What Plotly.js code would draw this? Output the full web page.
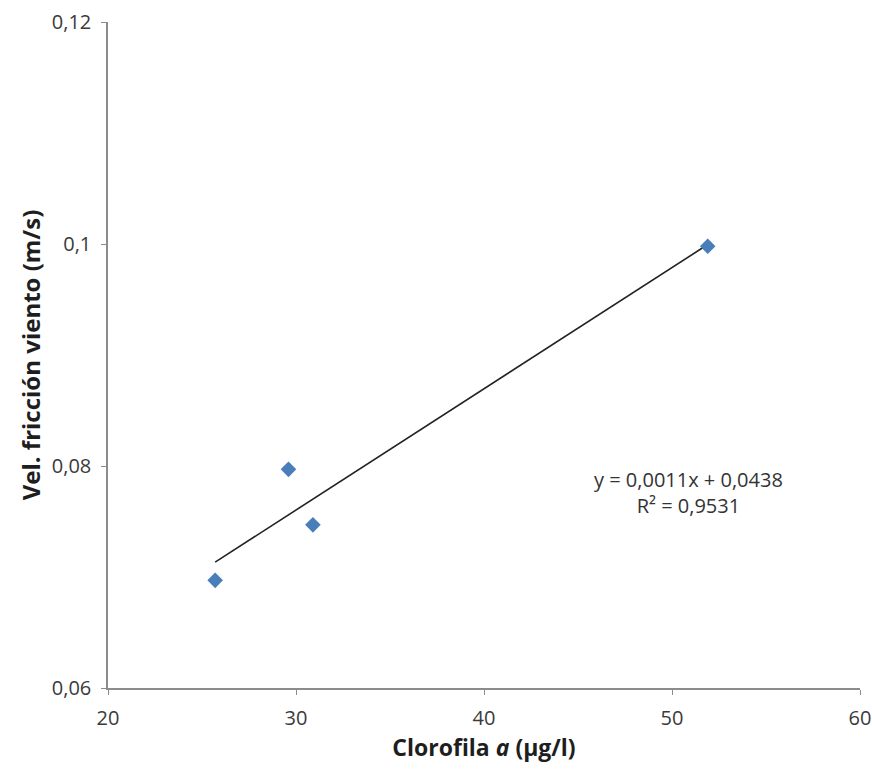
<!DOCTYPE html>
<html>
<head>
<meta charset="utf-8">
<script src="https://cdn.plot.ly/plotly-3.0.1.min.js"></script>
<style>html,body{margin:0;padding:0;background:#fff}#chart{width:872px;height:771px}</style>
</head>
<body>
<div id="chart"></div>
<script>
const clorofila = [25.7, 29.6, 30.9, 51.9];
const velFriccion = [0.0697, 0.0797, 0.0747, 0.0998];
const xTicks = [20, 30, 40, 50, 60];
const yTicks = [0.06, 0.08, 0.10, 0.12];
const yTickLabels = ["0,06", "0,08", "0,1", "0,12"];
const equationText = "y = 0,0011x + 0,0438<br>R² = 0,9531";

// least-squares trendline from the data
const n = clorofila.length;
const mx = clorofila.reduce((a, b) => a + b, 0) / n;
const my = velFriccion.reduce((a, b) => a + b, 0) / n;
let sxy = 0, sxx = 0;
for (let i = 0; i < n; i++) { sxy += (clorofila[i] - mx) * (velFriccion[i] - my); sxx += (clorofila[i] - mx) ** 2; }
const slope = sxy / sxx, intercept = my - slope * mx;
const xmin = Math.min(...clorofila), xmax = Math.max(...clorofila);
const trendX = [xmin, xmax];
const trendY = trendX.map(x => slope * x + intercept);

const font = "Open Sans, Liberation Sans, sans-serif";
const data = [
  {x: trendX, y: trendY, mode: "lines", type: "scatter", line: {color: "#222", width: 1.6}, hoverinfo: "skip", showlegend: false},
  {x: clorofila, y: velFriccion, mode: "markers", type: "scatter", marker: {symbol: "diamond", size: 12, color: "#4a7ebb"}, showlegend: false}
];
const axisCommon = {showgrid: false, zeroline: false, showline: true, linecolor: "#8c8c8c", linewidth: 1.5,
  ticks: "outside", ticklen: 5, tickcolor: "#8c8c8c", ticklabelstandoff: 6,
  tickfont: {family: font, size: 20, color: "#3a3a3a"}};
const layout = {
  width: 872, height: 771,
  margin: {l: 108, r: 12, t: 22, b: 83},
  paper_bgcolor: "#fff", plot_bgcolor: "#fff",
  xaxis: Object.assign({}, axisCommon, {range: [20, 60], tickvals: xTicks, ticktext: xTicks.map(String),
    title: {text: "Clorofila <i>a</i> (µg/l)", font: {family: font, size: 23, color: "#1e1e1e", weight: "bold"}, standoff: 9}}),
  yaxis: Object.assign({}, axisCommon, {range: [0.06, 0.12], tickvals: yTicks, ticktext: yTickLabels,
    title: {text: "Vel. fricción viento (m/s)", font: {family: font, size: 24, color: "#1e1e1e", weight: "bold"}, standoff: 4}}),
  annotations: [{x: 50.9, y: 0.0776, xref: "x", yref: "y", text: equationText, showarrow: false,
    font: {family: font, size: 20, color: "#333"}, align: "center"}]
};
Plotly.newPlot("chart", data, layout, {displayModeBar: false});
</script>
</body>
</html>
